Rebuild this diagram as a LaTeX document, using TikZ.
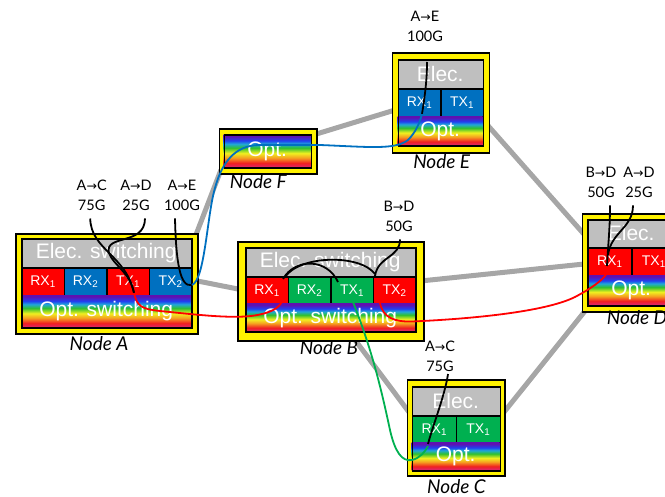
\documentclass[tikz,border=0pt]{standalone}
\usepackage{fontspec}
\usetikzlibrary{backgrounds}
\setmainfont{Liberation Sans}
\newfontfamily\lblfont{Lato}
\newfontfamily\arrfont{DejaVu Sans}
\newcommand{\toarr}{{\arrfont\fontsize{12.5}{12.5}\selectfont →}}

\definecolor{swgray}{HTML}{BFBFBF}
\definecolor{linkgray}{HTML}{A6A6A6}
\definecolor{cellred}{HTML}{FF0000}
\definecolor{cellblue}{HTML}{0070C0}
\definecolor{cellgreen}{HTML}{00B050}
\definecolor{rbviolet}{HTML}{6010B0}
\definecolor{rbblue}{HTML}{2040F0}
\definecolor{rbcyan}{HTML}{20A8D8}
\definecolor{rbgreen}{HTML}{30C030}
\definecolor{rbyellow}{HTML}{F0F020}
\definecolor{rborange}{HTML}{F5A020}
\definecolor{rbred}{HTML}{F02020}
\definecolor{rbpink}{HTML}{D82878}
\pgfdeclareverticalshading{rainbow}{100bp}{color(0bp)=(rbpink); color(25bp)=(rbpink); color(32bp)=(rbred); color(40bp)=(rborange); color(47bp)=(rbyellow); color(55bp)=(rbgreen); color(61bp)=(rbcyan); color(66bp)=(rbblue); color(73bp)=(rbviolet); color(100bp)=(rbviolet)}

\tikzset{
  outerbox/.style = {draw, line width=1.8pt, fill=yellow, anchor=north west, inner sep=0},
  part/.style = {anchor=north west, inner sep=0, text=white},
  elec/.style = {part, fill=swgray, font=\fontsize{21}{21}\selectfont},
  opt/.style = {part, shade, shading=rainbow, font=\fontsize{21}{21}\selectfont},
  trx/.style = {part, draw, line width=1.6pt, font=\fontsize{14}{14}\selectfont},
  rim/.style = {draw, line width=1.8pt, anchor=north west, inner sep=0},
  nodename/.style = {font=\lblfont\itshape\fontsize{19}{19}\selectfont},
  demand/.style = {font=\lblfont\fontsize{14.5}{20}\selectfont, align=center, inner sep=0},
  link/.style = {linkgray, line width=5pt},
  wire/.style = {line width=1.8pt}
}

\begin{document}
\begin{tikzpicture}[x=1pt, y=-1pt]
  \useasboundingbox (0,0) rectangle (665,497);

  % Node A
  \node[outerbox, minimum width=182, minimum height=100] (A) at (15,233) {};
  \node[elec, minimum width=170, minimum height=28.5] (A-elec) at (21,238.5) {Elec. switching};
  \node[trx, fill=cellred, minimum width=42.5, minimum height=28] (A-rx1) at (21,267) {RX\textsubscript{1}};
  \node[trx, fill=cellblue, minimum width=42.5, minimum height=28] (A-rx2) at (63.5,267) {RX\textsubscript{2}};
  \node[trx, fill=cellred, minimum width=42.5, minimum height=28] (A-tx1) at (106,267) {TX\textsubscript{1}};
  \node[trx, fill=cellblue, minimum width=42.5, minimum height=28] (A-tx2) at (148.5,267) {TX\textsubscript{2}};
  \node[opt, minimum width=170, minimum height=32.5] (A-opt) at (21,295) {Opt. switching};
  \node[rim, minimum width=170, minimum height=89] (A-rim) at (21,238.5) {};
  \node[nodename] (A-name) at (99,344) {Node A};

  % Node B
  \node[outerbox, minimum width=186, minimum height=99] (B) at (237,241) {};
  \node[elec, minimum width=170, minimum height=29] (B-elec) at (245,247.5) {Elec. switching};
  \node[trx, fill=cellred, minimum width=42.5, minimum height=27] (B-rx1) at (245,276.5) {RX\textsubscript{1}};
  \node[trx, fill=cellgreen, minimum width=42.5, minimum height=27] (B-rx2) at (287.5,276.5) {RX\textsubscript{2}};
  \node[trx, fill=cellgreen, minimum width=42.5, minimum height=27] (B-tx1) at (330,276.5) {TX\textsubscript{1}};
  \node[trx, fill=cellred, minimum width=42.5, minimum height=27] (B-tx2) at (372.5,276.5) {TX\textsubscript{2}};
  \node[opt, minimum width=170, minimum height=28] (B-opt) at (245,303.5) {Opt. switching};
  \node[rim, minimum width=170, minimum height=84] (B-rim) at (245,247.5) {};
  \node[nodename] (B-name) at (329,348) {Node B};

  % Node C
  \node[outerbox, minimum width=97.5, minimum height=95.5] (C) at (406.5,379.5) {};
  \node[elec, minimum width=88, minimum height=29.5] (C-elec) at (411.5,386) {Elec.};
  \node[trx, fill=cellgreen, minimum width=44, minimum height=27] (C-rx1) at (411.5,415.5) {RX\textsubscript{1}};
  \node[trx, fill=cellgreen, minimum width=44, minimum height=27] (C-tx1) at (455.5,415.5) {TX\textsubscript{1}};
  \node[opt, minimum width=88, minimum height=27.5] (C-opt) at (411.5,442.5) {Opt.};
  \node[rim, minimum width=88, minimum height=84] (C-rim) at (411.5,386) {};
  \node[nodename] (C-name) at (456.5,486.5) {Node C};

  % Node D
  \node[outerbox, minimum width=98.5, minimum height=98] (D) at (581.5,213.5) {};
  \node[elec, minimum width=88, minimum height=28.5] (D-elec) at (587,219) {Elec.};
  \node[trx, fill=cellred, minimum width=44, minimum height=27.5] (D-rx1) at (587,247.5) {RX\textsubscript{1}};
  \node[trx, fill=cellred, minimum width=44, minimum height=27.5] (D-tx1) at (631,247.5) {TX\textsubscript{1}};
  \node[opt, minimum width=88, minimum height=30] (D-opt) at (587,275) {Opt.};
  \node[rim, minimum width=88, minimum height=86] (D-rim) at (587,219) {};
  \node[nodename] (D-name) at (637,318) {Node D};

  % Node E
  \node[outerbox, minimum width=97, minimum height=99.5] (E) at (391.5,52.5) {};
  \node[elec, minimum width=85, minimum height=28.5] (E-elec) at (397.5,59.5) {Elec.};
  \node[trx, fill=cellblue, minimum width=42.5, minimum height=28] (E-rx1) at (397.5,88) {RX\textsubscript{1}};
  \node[trx, fill=cellblue, minimum width=42.5, minimum height=28] (E-tx1) at (440,88) {TX\textsubscript{1}};
  \node[opt, minimum width=85, minimum height=29.5] (E-opt) at (397.5,116) {Opt.};
  \node[rim, minimum width=85, minimum height=86] (E-rim) at (397.5,59.5) {};
  \node[nodename] (E-name) at (441.7,162) {Node E};

  % Node F
  \node[outerbox, minimum width=97.5, minimum height=45] (F) at (218.5,128.5) {};
  \node[opt, minimum width=87, minimum height=33] (F-opt) at (223.5,134.5) {Opt.};
  \node[rim, minimum width=87, minimum height=33] (F-rim) at (223.5,134.5) {};
  \node[nodename] (F-name) at (258.3,182) {Node F};

  % links, behind the nodes
  \begin{scope}[on background layer]
    \draw[link] ([shift={(-6,10)}]A.north east) -- ([shift={(2.5,-5.5)}]F.south west);
    \draw[link] ([shift={(-12,-5)}]A.east) -- ([shift={(8,-1)}]B.west);
    \draw[link] ([shift={(-6,-16.5)}]F.east) -- ([shift={(5.5,6.25)}]E.west);
    \draw[link] ([shift={(-8.5,15.5)}]E.east) -- ([shift={(8.5,27.5)}]D.north west);
    \draw[link] ([shift={(-8,-10)}]B.east) -- ([shift={(8.5,0)}]D.west);
    \draw[link] ([shift={(18,-10)}]B.south) -- ([shift={(8.5,-8)}]C.west);
    \draw[link] ([shift={(-4,-13.25)}]C.east) -- ([shift={(8.5,-8.5)}]D.south west);
  \end{scope}

  % demands
  \node[demand] (dAC) at (91.7,195) {A\toarr C\\75G};
  \node[demand] (dAD) at (136,195) {A\toarr D\\25G};
  \node[demand] (dAE) at (182,195) {A\toarr E\\100G};
  \node[demand] (dBD) at (399,216) {B\toarr D\\50G};
  \node[demand] (dCC) at (440,356.5) {A\toarr C\\75G};
  \node[demand] (dDB) at (601,182) {B\toarr D\\50G};
  \node[demand] (dDA) at (639,182) {A\toarr D\\25G};
  \node[demand] (dEA) at (425,26) {A\toarr E\\100G};

  % electrical switching
  \draw[wire] (dAC.south) ++(-1.5,8) .. controls (91,250) and (126,255) .. (134,293);
  \draw[wire] (dAD.south) ++(9,8) .. controls (145,246) and (104,234) .. (109,253) .. controls (113,265) and (130,272) .. (134,293);
  \draw[wire] (dAE.south) ++(-7,8) .. controls (176,262) and (180,288) .. (192,285);
  \draw[wire] (283,279) .. controls (295,258) and (327,258) .. (338,282);
  \draw[wire] (285,277) .. controls (300,255) and (360,254) .. (375,274);
  \draw[wire] (dBD.south) ++(1,8) .. controls (400,258) and (378,256) .. (375,276);
  \draw[wire] (dDB.south) ++(9,8) .. controls (610,230) and (608,245) .. (607,266);
  \draw[wire] (dDA.south) ++(-6,8) .. controls (633,228) and (611,232) .. (608,255);
  \draw[wire] (dCC.south) ++(8,2) .. controls (445,395) and (433,425) .. (428,444);
  \draw[wire] (422,114) .. controls (425,95) and (427,80) .. (427,62);

  % optical paths
  \draw[wire, cellred] (134,293) .. controls (137,306) and (141,309) .. (160,311) .. controls (200,315) and (240,320) .. (262,314) .. controls (275,311) and (280,306) .. (283,300);
  \draw[wire, cellred] (380,303) .. controls (383,318) and (395,322) .. (412,321.5) .. controls (470,319) and (545,312) .. (575,297) .. controls (592,288) and (603,280) .. (607,273);
  \draw[wire, cellblue] (192,285) .. controls (205,280) and (207,215) .. (215,188) .. controls (222,162) and (235,146) .. (258,145) -- (320,145) .. controls (370,147) and (395,150) .. (408,140) .. controls (416,132) and (420,122) .. (422,114);
  \draw[wire, cellgreen] (353,302) .. controls (372,350) and (381,388) .. (390,430) .. controls (395,452) and (402,462) .. (412,460) .. controls (420,458) and (425,452) .. (428,446);
\end{tikzpicture}
\end{document}
